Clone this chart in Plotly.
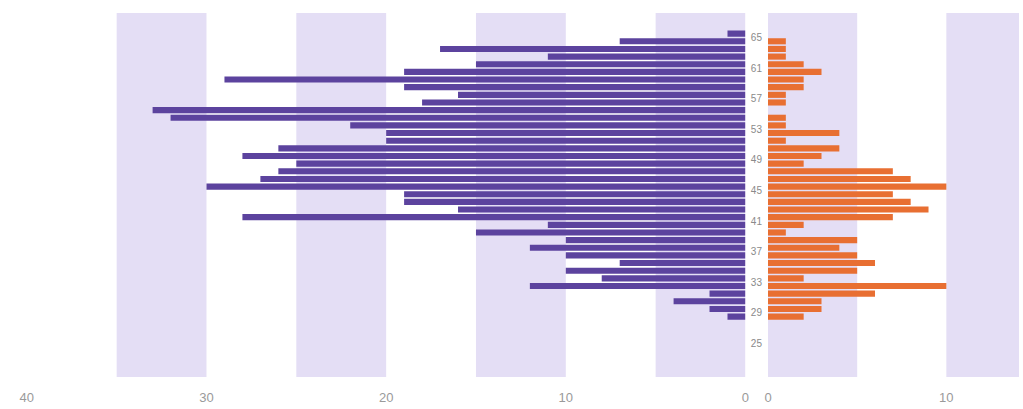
import plotly.graph_objects as go

# Age bins (bin start), top to bottom
ages = list(range(65, 27, -1))
left_values = [1, 7, 17, 11, 15, 19, 29, 19, 16, 18,
               33, 32, 22, 20, 20, 26, 28, 25, 26, 27,
               30, 19, 19, 16, 28, 11, 15, 10, 12, 10,
               7, 10, 8, 12, 2, 4, 2, 1]
right_values = [0, 1, 1, 1, 2, 3, 2, 2, 1, 1,
                0, 1, 1, 4, 1, 4, 3, 2, 7, 8,
                10, 7, 8, 9, 7, 2, 1, 5, 4, 5,
                6, 5, 2, 10, 6, 3, 3, 2]
age_ticks = list(range(25, 66, 4))
left_ticks = [0, 10, 20, 30, 40]
right_ticks = [0, 10]
left_bands = [(0, 5), (10, 15), (20, 25), (30, 35)]
right_bands = [(0, 5), (10, 15)]

PURPLE = "#5C439E"
ORANGE = "#E86F32"
BAND = "#E4DEF5"

y_mid = [a + 0.5 for a in ages]

fig = go.Figure()
fig.add_trace(go.Bar(y=y_mid, x=left_values, orientation="h",
                     marker=dict(color=PURPLE, line=dict(width=0)),
                     xaxis="x", yaxis="y", showlegend=False, hoverinfo="skip"))
fig.add_trace(go.Bar(y=y_mid, x=right_values, orientation="h",
                     marker=dict(color=ORANGE, line=dict(width=0)),
                     xaxis="x2", yaxis="y2", showlegend=False, hoverinfo="skip"))

shapes = []
for b0, b1 in left_bands:
    shapes.append(dict(type="rect", xref="x", yref="y domain", x0=b0, x1=b1,
                       y0=0, y1=1, fillcolor=BAND, line=dict(width=0), layer="below"))
for b0, b1 in right_bands:
    shapes.append(dict(type="rect", xref="x2", yref="y2 domain", x0=b0, x1=b1,
                       y0=0, y1=1, fillcolor=BAND, line=dict(width=0), layer="below"))

W, H = 1023, 409
# observed horizontal page mapping: screen = A + S * figure_x
A, S = 7.5, 0.9873


def fx(screen_x):
    return (screen_x - A) / S


ydom = [1 - 377 / H, 1 - 13 / H]
yrange = [20.6, 68.2]
x2_end = (A + S * W - 767) / 17.8

fig.update_layout(
    width=W, height=H,
    margin=dict(l=0, r=0, t=0, b=0),
    paper_bgcolor="white", plot_bgcolor="white",
    bargap=0.2,
    shapes=shapes,
    hovermode=False,
    font=dict(family="Liberation Sans, Arial, sans-serif"),
    xaxis=dict(domain=[fx(27.3) / W, fx(744.5) / W], range=[40, 0], tickvals=left_ticks,
               showgrid=False, zeroline=False, showline=False,
               tickfont=dict(size=13, color="#9a9a9a"), ticklabelstandoff=11),
    yaxis=dict(domain=ydom, range=yrange, showticklabels=False,
               showgrid=False, zeroline=False, showline=False),
    xaxis2=dict(domain=[fx(767) / W, 1.0], range=[0, x2_end], tickvals=right_ticks,
                anchor="y2", showgrid=False, zeroline=False, showline=False,
                tickfont=dict(size=13, color="#9a9a9a"), ticklabelstandoff=11),
    yaxis2=dict(domain=ydom, range=yrange, anchor="x2", tickvals=age_ticks,
                showgrid=False, zeroline=False, showline=False,
                tickfont=dict(size=10, color="#8a8a8a"), ticklabelstandoff=5),
)

fig.write_html("out.html", config={"displayModeBar": False},
               post_script="document.body.style.margin='0';document.body.style.overflow='hidden';")
